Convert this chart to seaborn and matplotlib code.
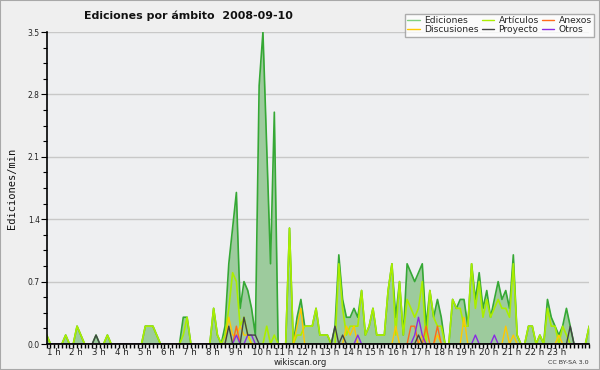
import numpy as np
import pandas as pd
import matplotlib
matplotlib.use("Agg")
import matplotlib.pyplot as plt
import matplotlib.transforms as mtransforms
from matplotlib.lines import Line2D
from matplotlib.patches import Rectangle
from matplotlib.ticker import FixedLocator
import seaborn as sns

# ---- data: edits per minute, one value per 10-minute slot (144 slots) ----
slot = list(range(144))  # 10-minute slot index of the day

ediciones = [
    0.1, 0, 0, 0, 0, 0.1, 0, 0, 0.2, 0.1, 0, 0,
    0, 0.1, 0, 0, 0.1, 0, 0, 0, 0, 0, 0, 0,
    0, 0, 0.2, 0.2, 0.2, 0.1, 0, 0, 0, 0, 0, 0,
    0.3, 0.3, 0, 0, 0, 0, 0, 0, 0.4, 0.1, 0, 0.2,
    0.9, 1.3, 1.7, 0.4, 0.7, 0.6, 0.4, 0.1, 2.9, 3.5, 2.2, 0.9,
    2.6, 0, 0, 0, 1.3, 0, 0.3, 0.5, 0.2, 0.2, 0.2, 0.4,
    0.1, 0.1, 0.1, 0, 0.2, 1.0, 0.5, 0.3, 0.3, 0.4, 0.3, 0.6,
    0.1, 0.2, 0.4, 0.1, 0.1, 0.1, 0.6, 0.9, 0.3, 0.7, 0.1, 0.9,
    0.8, 0.7, 0.8, 0.9, 0.2, 0.6, 0.3, 0.5, 0.3, 0, 0, 0.5,
    0.4, 0.5, 0.5, 0.2, 0.9, 0.5, 0.8, 0.4, 0.6, 0.3, 0.5, 0.7,
    0.5, 0.6, 0.4, 1.0, 0.1, 0, 0, 0.2, 0.2, 0, 0.1, 0,
    0.5, 0.3, 0.2, 0.1, 0.2, 0.4, 0.2, 0, 0, 0, 0, 0.2,
]
articulos = [
    0.1, 0, 0, 0, 0, 0.1, 0, 0, 0.2, 0.1, 0, 0,
    0, 0, 0, 0, 0.1, 0, 0, 0, 0, 0, 0, 0,
    0, 0, 0.2, 0.2, 0.2, 0.1, 0, 0, 0, 0, 0, 0,
    0.1, 0.3, 0, 0, 0, 0, 0, 0, 0.4, 0.1, 0, 0.1,
    0.4, 0.8, 0.7, 0.2, 0.3, 0.1, 0, 0, 0, 0, 0.2, 0,
    0.1, 0, 0, 0, 1.3, 0, 0.1, 0.1, 0.2, 0.2, 0.2, 0.4,
    0.1, 0.1, 0.1, 0, 0, 0.9, 0.4, 0.1, 0.2, 0.2, 0.2, 0.6,
    0.1, 0.2, 0.4, 0.1, 0.1, 0.1, 0.6, 0.9, 0.1, 0.7, 0.1, 0.5,
    0.4, 0.3, 0.4, 0.7, 0, 0.6, 0.3, 0.2, 0.2, 0, 0, 0.5,
    0.4, 0.4, 0.2, 0.2, 0.9, 0.4, 0.7, 0.3, 0.5, 0.3, 0.4, 0.5,
    0.4, 0.4, 0.3, 0.9, 0.1, 0, 0, 0.2, 0.2, 0, 0.1, 0,
    0.4, 0.2, 0.2, 0, 0.2, 0.1, 0, 0, 0, 0, 0, 0.2,
]
anexos = [
    0, 0, 0, 0, 0, 0, 0, 0, 0, 0, 0, 0,
    0, 0, 0, 0, 0, 0, 0, 0, 0, 0, 0, 0,
    0, 0, 0, 0, 0, 0, 0, 0, 0, 0, 0, 0,
    0, 0, 0, 0, 0, 0, 0, 0, 0, 0, 0, 0,
    0, 0, 0.2, 0, 0, 0, 0, 0, 0, 0, 0, 0,
    0, 0, 0, 0, 0, 0, 0, 0, 0, 0, 0, 0,
    0, 0, 0, 0, 0, 0, 0, 0, 0, 0, 0, 0,
    0, 0, 0, 0, 0, 0, 0, 0, 0, 0, 0, 0,
    0.2, 0.2, 0, 0, 0.2, 0, 0, 0.2, 0, 0, 0, 0,
    0, 0, 0, 0, 0, 0, 0, 0, 0, 0, 0, 0,
    0, 0, 0, 0, 0, 0, 0, 0, 0, 0, 0, 0,
    0, 0, 0, 0, 0, 0, 0, 0, 0, 0, 0, 0,
]
discusiones = [
    0, 0, 0, 0, 0, 0, 0, 0, 0, 0, 0, 0,
    0, 0, 0, 0, 0, 0, 0, 0, 0, 0, 0, 0,
    0, 0, 0, 0, 0, 0, 0, 0, 0, 0, 0, 0,
    0, 0, 0, 0, 0, 0, 0, 0, 0, 0, 0, 0,
    0.3, 0.1, 0.1, 0.2, 0.1, 0.1, 0, 0, 0, 0, 0, 0,
    0, 0, 0, 0, 0, 0, 0.2, 0.4, 0, 0, 0, 0,
    0, 0, 0, 0, 0, 0, 0, 0.2, 0.1, 0.2, 0, 0,
    0, 0, 0, 0, 0, 0, 0, 0, 0.2, 0, 0, 0,
    0, 0, 0, 0.1, 0, 0, 0, 0.1, 0, 0, 0, 0,
    0, 0, 0.3, 0, 0, 0, 0, 0, 0, 0, 0, 0,
    0, 0.2, 0, 0.1, 0, 0, 0, 0, 0, 0, 0, 0,
    0, 0, 0, 0.1, 0, 0, 0, 0, 0, 0, 0, 0,
]
proyecto = [
    0, 0, 0, 0, 0, 0, 0, 0, 0, 0, 0, 0,
    0, 0.1, 0, 0, 0, 0, 0, 0, 0, 0, 0, 0,
    0, 0, 0, 0, 0, 0, 0, 0, 0, 0, 0, 0,
    0, 0, 0, 0, 0, 0, 0, 0, 0, 0, 0, 0,
    0.2, 0, 0, 0, 0.3, 0.1, 0.1, 0.1, 0, 0, 0, 0,
    0, 0, 0, 0, 0, 0, 0, 0, 0, 0, 0, 0,
    0, 0, 0, 0, 0.2, 0, 0.1, 0, 0, 0, 0, 0,
    0, 0, 0, 0, 0, 0, 0, 0, 0, 0, 0, 0,
    0, 0, 0.1, 0, 0, 0, 0, 0, 0, 0, 0, 0,
    0, 0, 0, 0, 0, 0, 0, 0, 0, 0, 0, 0,
    0, 0, 0, 0, 0, 0, 0, 0, 0, 0, 0, 0,
    0, 0, 0, 0, 0, 0, 0.2, 0, 0, 0, 0, 0,
]
otros = [
    0, 0, 0, 0, 0, 0, 0, 0, 0, 0, 0, 0,
    0, 0, 0, 0, 0, 0, 0, 0, 0, 0, 0, 0,
    0, 0, 0, 0, 0, 0, 0, 0, 0, 0, 0, 0,
    0, 0, 0, 0, 0, 0, 0, 0, 0, 0, 0, 0,
    0, 0, 0.1, 0, 0, 0.1, 0.1, 0, 0, 0, 0, 0,
    0, 0, 0, 0, 0, 0, 0, 0, 0, 0, 0, 0,
    0, 0, 0, 0, 0, 0, 0, 0, 0, 0, 0.1, 0,
    0, 0, 0, 0, 0, 0, 0, 0, 0, 0, 0, 0,
    0, 0.1, 0.3, 0.1, 0, 0, 0, 0, 0, 0, 0, 0,
    0, 0, 0, 0, 0, 0.1, 0, 0, 0, 0, 0.1, 0,
    0, 0, 0, 0, 0, 0, 0, 0, 0, 0, 0, 0,
    0, 0, 0, 0, 0, 0, 0, 0, 0, 0, 0, 0,
]
hour_labels = [f"{h} h" for h in range(1, 24)]
y_ticks = [0.0, 0.7, 1.4, 2.1, 2.8, 3.5]
title = "Ediciones por ámbito  2008-09-10"

df = pd.DataFrame({
    "slot": slot,
    "Ediciones": ediciones,
    "Artículos": articulos,
    "Anexos": anexos,
    "Discusiones": discusiones,
    "Proyecto": proyecto,
    "Otros": otros,
})
df["hora"] = df["slot"] / 6.0

sns.set_theme(style="white")
plt.rcParams["font.family"] = ["DejaVu Sans"]
plt.rcParams.update({
    "xtick.bottom": True, "ytick.left": True,
    "xtick.major.bottom": True, "ytick.major.left": True,
    "xtick.minor.bottom": True, "ytick.minor.left": True,
})

W, H = 600, 370
fig = plt.figure(figsize=(6, 3.7), dpi=100, facecolor="#efefef")
fig.patches.append(Rectangle((0, 0), 1, 1, transform=fig.transFigure,
                             fill=False, edgecolor="#a8a8a8", lw=1.5))
x0, x1, ybot, ytop = 46.7, 589.2, 344, 32
ax = fig.add_axes([x0 / W, (H - ybot) / H, (x1 - x0) / W, (ybot - ytop) / H])
ax.set_facecolor("#eeeff1")

col = {
    "Ediciones": "#35a835",
    "Artículos": "#aaee00",
    "Anexos": "#ff6a1a",
    "Discusiones": "#ffc800",
    "Proyecto": "#444444",
    "Otros": "#8a2be2",
}

ax.fill_between(df["hora"], 0, df["Ediciones"], color="#9dcb9d", lw=0, zorder=2)
sns.lineplot(data=df, x="hora", y="Ediciones", ax=ax, color=col["Ediciones"], lw=1.2, zorder=3)
sns.lineplot(data=df, x="hora", y="Artículos", ax=ax, color=col["Artículos"], lw=1.2, zorder=4)
sns.lineplot(data=df, x="hora", y="Discusiones", ax=ax, color=col["Discusiones"], lw=1.0, zorder=5)
sns.lineplot(data=df, x="hora", y="Anexos", ax=ax, color=col["Anexos"], lw=1.0, zorder=6)
sns.lineplot(data=df, x="hora", y="Otros", ax=ax, color=col["Otros"], lw=1.0, zorder=7)
sns.lineplot(data=df, x="hora", y="Proyecto", ax=ax, color=col["Proyecto"], lw=1.0, zorder=8)

ax.set_xlim(0, df["hora"].max())
ax.set_ylim(0, 3.5)
ax.set_yticks(y_ticks)
ax.set_yticklabels([f"{v:.1f}" for v in y_ticks], fontsize=5.5, color="#222222")
ax.yaxis.set_minor_locator(FixedLocator(list(np.arange(0, 3.5001, 0.175))))
ax.grid(axis="y", which="major", color="#c8c8c8", lw=1.0)
ax.grid(axis="x", visible=False)

# x axis: one tick per 10-minute slot, hour labels to the right of each hour
ax.xaxis.set_major_locator(FixedLocator(list(df["hora"])))
slot_labels = [""] * len(df)
for k, lab in enumerate(hour_labels):
    slot_labels[6 * k] = lab
ax.set_xticklabels(slot_labels, fontsize=6.2, color="#222222", ha="left")
offset = mtransforms.ScaledTranslation(1.5 / 100, 0, fig.dpi_scale_trans)
for lab in ax.get_xticklabels():
    lab.set_transform(lab.get_transform() + offset)
ax.tick_params(axis="x", which="major", bottom=True, length=2.6, width=1.0,
               color="black", direction="out", pad=0.5)
ax.tick_params(axis="y", which="major", left=True, length=4, width=0.8, color="black", direction="out", pad=1)
ax.tick_params(axis="y", which="minor", left=True, length=3, width=0.8, color="black", direction="out")
# gridlines (y axis) behind the area, x-axis ticks on top
ax.yaxis.set_zorder(0.5)
ax.xaxis.set_zorder(25)

for s in ["top", "right"]:
    ax.spines[s].set_visible(False)
for s in ["left", "bottom"]:
    ax.spines[s].set_color("black")
    ax.spines[s].set_linewidth(1.2)
    ax.spines[s].set_zorder(20)

ax.set_xlabel("")
ax.set_ylabel("Ediciones/min", family="DejaVu Sans Mono", fontsize=7.5, color="#111111")
ax.yaxis.set_label_coords(-0.055, 0.5)

fig.text(188 / W, 1 - 16 / H, title, ha="center", va="center", fontsize=7.9, fontweight="bold", color="#111111")
fig.text(300 / W, 1 - 362.5 / H, "wikiscan.org", ha="center", va="center", fontsize=6.1, color="#222222")
fig.text(589 / W, 1 - 363 / H, "CC BY-SA 3.0", ha="right", va="center", fontsize=4.6, color="#333333")

order = ["Ediciones", "Discusiones", "Artículos", "Proyecto", "Anexos", "Otros"]
leg_col = dict(col)
leg_col["Ediciones"] = "#80d080"
handles = [Line2D([], [], color=leg_col[k], lw=1.0) for k in order]
leg = fig.legend(handles, order, ncol=3, loc="upper right",
                 bbox_to_anchor=(599 / W, 1 - 9 / H), fontsize=6.6,
                 frameon=True, fancybox=False, handlelength=1.4,
                 handletextpad=0.45, columnspacing=0.3, labelspacing=0.0,
                 borderpad=0.3)
leg.get_frame().set_edgecolor("#9a9a9a")
leg.get_frame().set_facecolor("white")
leg.get_frame().set_linewidth(1.0)
if ax.get_legend() is not None:
    ax.get_legend().remove()

fig.savefig("out.png", dpi=100, facecolor=fig.get_facecolor())
